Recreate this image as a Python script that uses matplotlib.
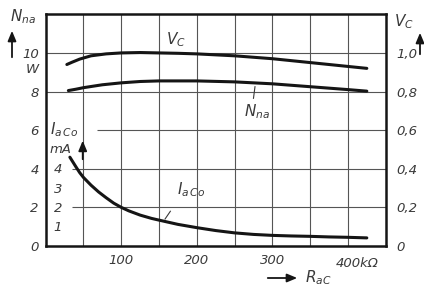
import matplotlib
matplotlib.use("Agg")
import matplotlib.pyplot as plt

# ---- data ----
r_vc = [28, 35, 45, 60, 80, 100, 125, 150, 175, 200, 250, 300, 350, 400, 425]
vc_w = [9.4, 9.52, 9.68, 9.85, 9.95, 10.0, 10.02, 10.0, 9.98, 9.95, 9.85, 9.7, 9.5, 9.3, 9.2]   # V_C on left scale (x10)

r_nna = [30, 40, 50, 75, 100, 125, 150, 200, 250, 300, 350, 400, 425]
nna = [8.05, 8.12, 8.2, 8.35, 8.45, 8.52, 8.55, 8.55, 8.5, 8.4, 8.25, 8.1, 8.02]

r_iac = [32, 36, 40, 45, 50, 55, 60, 70, 80, 90, 100, 110, 125, 140, 150, 175, 200,
         225, 250, 275, 300, 325, 350, 375, 400, 425]
iac = [4.6, 4.35, 4.1, 3.8, 3.55, 3.35, 3.15, 2.8, 2.5, 2.22, 2.0, 1.82, 1.6, 1.43,
       1.34, 1.12, 0.95, 0.8, 0.68, 0.6, 0.55, 0.52, 0.5, 0.47, 0.45, 0.42]

left_ticks = [0, 2, 4, 6, 8, 10]
right_ticks = [0, 0.2, 0.4, 0.6, 0.8, 1.0]
right_labels = ["0", "0,2", "0,4", "0,6", "0,8", "1,0"]
x_ticks = [100, 200, 300]
ma_ticks = [1, 2, 3, 4]

plt.rcParams['mathtext.fontset'] = 'dejavusans'
TXT = '#3a3a3a'
LINE = '#151515'
GRID = '#555555'

fig = plt.figure(figsize=(4.24, 2.89), dpi=100)
ax = fig.add_axes([45.7/424, 1-246/289, 340/424, (246-14.3)/289])
ax.set_xlim(0, 450)
ax.set_ylim(0, 12)

# grid
for xv in range(50, 450, 50):
    ax.axvline(xv, color=GRID, lw=0.8, zorder=1)
ax.hlines([8, 10], 0, 450, color=GRID, lw=0.8, zorder=1)
ax.hlines([6], 68, 450, color=GRID, lw=0.8, zorder=1)
ax.hlines([2, 4], 35, 450, color=GRID, lw=0.8, zorder=1)

# curves
for xs, ys in ((r_vc, vc_w), (r_nna, nna), (r_iac, iac)):
    ax.plot(xs, ys, color=LINE, lw=2.2, zorder=4, solid_capstyle='round',
            solid_joinstyle='round')

for s in ax.spines.values():
    s.set_linewidth(1.8)
    s.set_color(LINE)

fs = 9.5
ax.set_yticks(left_ticks)
ax.set_yticklabels([str(v) for v in left_ticks], fontstyle='italic', fontsize=fs, color=TXT)
ax.set_xticks(x_ticks)
ax.set_xticklabels([str(v) for v in x_ticks], fontstyle='italic', fontsize=fs, color=TXT)
ax.tick_params(axis='both', length=0)
ax.tick_params(axis='y', pad=5)
ax.tick_params(axis='x', pad=6)

ax2 = ax.twinx()
ax2.set_ylim(0, 1.2)
ax2.set_yticks(right_ticks)
ax2.set_yticklabels(right_labels, fontstyle='italic', fontsize=fs, color=TXT)
ax2.tick_params(axis='y', length=0, pad=8)
for s in ax2.spines.values():
    s.set_visible(False)

# extra axis texts
ax.text(384, -0.55, '400kΩ', ha='left', va='top', fontstyle='italic', fontsize=fs, color=TXT)
fig.text(26/424, 1-70/289, 'W', ha='left', va='center', fontstyle='italic', fontsize=fs, color=TXT)
fig.text(10/424, 1-17/289, r'$N_{na}$', ha='left', va='center', fontsize=11, color=TXT)
fig.text(394/424, 1-22/289, r'$V_C$', ha='left', va='center', fontsize=11, color=TXT)
fig.text(305/424, 1-278/289, r'$R_{aC}$', ha='left', va='center', fontsize=11, color=TXT)

# arrows
arr = dict(arrowstyle='-|>,head_length=0.6,head_width=0.25', color=LINE, lw=1.3)
ax.annotate('', xy=(12/424, 1-28/289), xytext=(12/424, 1-60/289),
            xycoords='figure fraction', textcoords='figure fraction', arrowprops=arr)
ax.annotate('', xy=(420/424, 1-30/289), xytext=(420/424, 1-57/289),
            xycoords='figure fraction', textcoords='figure fraction', arrowprops=arr)
ax.annotate('', xy=(300/424, 1-278/289), xytext=(265/424, 1-278/289),
            xycoords='figure fraction', textcoords='figure fraction', arrowprops=arr)
ax.annotate('', xy=(49, 5.6), xytext=(49, 4.35), arrowprops=arr, zorder=5)

# inner mA scale
for v in ma_ticks:
    ax.text(16, v - 0.05, str(v), ha='center', va='center', fontstyle='italic',
            fontsize=fs, color=TXT, zorder=3)
ax.text(19, 5.0, 'mA', ha='center', va='center', fontstyle='italic', fontsize=fs, color=TXT)
ax.text(25, 6.05, r'$I_{a\,Co}$', ha='center', va='center', fontsize=11, color=TXT)

# curve labels
ax.text(172, 10.7, r'$V_C$', ha='center', va='center', fontsize=11, color=TXT)
ax.text(280, 6.95, r'$N_{na}$', ha='center', va='center', fontsize=11, color=TXT)
ax.plot([277, 275], [8.25, 7.65], color=TXT, lw=0.8, zorder=3)
ax.text(192, 2.9, r'$I_{a\,Co}$', ha='center', va='center', fontsize=11, color=TXT)
ax.plot([165, 158], [1.8, 1.4], color=TXT, lw=0.8, zorder=3)

fig.savefig('out.png', dpi=100)
